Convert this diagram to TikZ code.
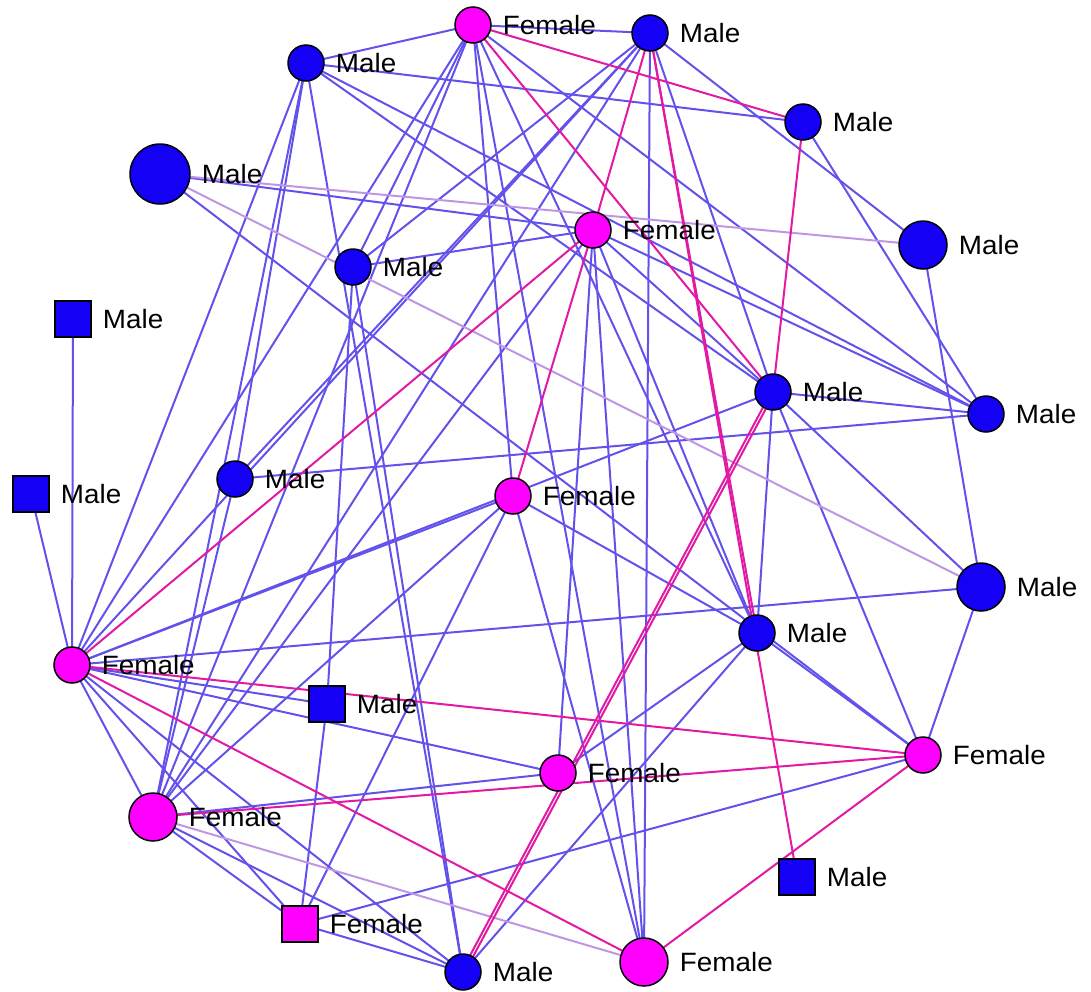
\documentclass[tikz,border=0pt]{standalone}
\usepackage{fontspec}
\setmainfont{Liberation Sans}[FakeStretch=1.05]
\pgfdeclarelayer{bg}
\pgfsetlayers{bg,main}
\definecolor{edgeb}{RGB}{98,82,235}
\definecolor{edgep}{RGB}{225,25,165}
\definecolor{edgel}{RGB}{192,150,228}
\definecolor{mblue}{RGB}{20,0,245}
\definecolor{fmag}{RGB}{255,0,255}
\begin{document}
\begin{tikzpicture}[x=1pt,y=-1pt,
  nd/.style={draw=black,line width=1.5pt,inner sep=0pt,minimum size=36pt},
  mc/.style={nd,circle,fill=mblue,label={[lab]0:Male}},
  fc/.style={nd,circle,fill=fmag,label={[lab]0:Female}},
  ms/.style={nd,rectangle,fill=mblue,label={[lab]0:Male}},
  fs/.style={nd,rectangle,fill=fmag,label={[lab]0:Female}},
  big/.style={minimum size=48pt},
  huge/.style={minimum size=60pt},
  lab/.style={font=\fontsize{26.5}{30}\selectfont,inner sep=0pt,text=black,label distance=11pt},
  eb/.style={draw=edgeb,line width=2pt},
  ep/.style={draw=edgep,line width=2pt},
  el/.style={draw=edgel,line width=2pt}]
\path[use as bounding box] (0,0) rectangle (1091,991);
% nodes
\node[fc] (F1) at (473,25) {};
\node[mc] (Mt) at (650,33) {};
\node[mc] (M2) at (306,63) {};
\node[mc] (M3) at (803,122) {};
\node[mc,huge] (Mb) at (160,174) {};
\node[fc] (F2) at (593,230) {};
\node[mc,big] (M4) at (923,245) {};
\node[mc] (M5) at (353,267) {};
\node[ms] (S1) at (73,319) {};
\node[mc] (M6) at (773,392) {};
\node[mc] (M7) at (986,414) {};
\node[mc] (M8) at (235,479) {};
\node[ms] (S2) at (31,494) {};
\node[fc] (F3) at (513,496) {};
\node[mc,big] (M9) at (981,587) {};
\node[mc] (M10) at (757,633) {};
\node[fc] (F4) at (72,665) {};
\node[ms] (S3) at (327,704) {};
\node[fc] (F5) at (923,755) {};
\node[fc] (F6) at (558,773) {};
\node[fc,big] (F7) at (153,817) {};
\node[ms] (S4) at (797,877) {};
\node[fs] (S5) at (300,924) {};
\node[mc] (M11) at (463,972) {};
\node[fc,big] (F8) at (644,962) {};
% edges
\begin{pgfonlayer}{bg}
\foreach \a/\b in {S1/F4, S2/F4, F1/M2, F1/Mt, F1/M5, F1/F4, F1/F7, F1/F3, F1/F8, F1/M10, F1/M7,
  Mb/F2, Mb/F5, M2/M11, M5/M11, M2/F7, M2/M3, M2/M6, M2/M8, M2/F4, M2/M7,
  Mt/M4, Mt/M5, Mt/F4, Mt/M8, Mt/F7, Mt/F8, Mt/M6, M6/F5,
  M3/M7, M4/M9, M6/M7, M6/F4, M6/M10, M6/M9, M7/M8, M8/F7,
  F4/F3, F4/M9, F4/F7, F4/S5, F4/M11, F4/S3, F4/F6,
  F7/F6, F7/S5, F7/M11, F7/F3, F3/F8, F3/M10, F3/S5,
  F2/F8, F2/M10, F2/M6, F2/M7, F2/F6, F2/F7, F2/M5,
  M11/M10, M11/S5, S3/M5, S3/S5, S5/F5, F5/M9, F5/M10, M10/F6}
  \draw[eb] (\a.center) -- (\b.center);
\foreach \a/\b in {Mb/M4, Mb/M9, F7/F8}
  \draw[el] (\a.center) -- (\b.center);
\foreach \a/\b in {F1/M3, F1/M6, Mt/F2, F2/F4, F2/F3, M3/M6, F4/F5, F7/F5, F5/F8, F4/F8, Mt/M10, Mt/S4}
  \draw[ep] (\a.center) -- (\b.center);
\draw[ep] ([xshift=-1.8pt]M11.center) -- ([xshift=-1.8pt]M6.center);
\draw[ep] ([xshift=1.8pt]M11.center) -- ([xshift=1.8pt]M6.center);
\end{pgfonlayer}
\end{tikzpicture}
\end{document}
